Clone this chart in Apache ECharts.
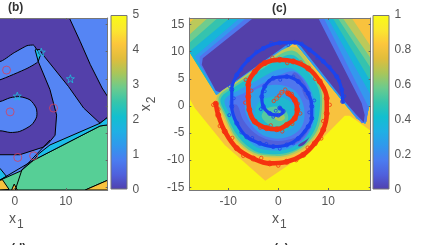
<!DOCTYPE html>
<html><head><meta charset="utf-8">
<style>html,body{margin:0;padding:0;background:#fff;overflow:hidden}#c{width:423px;height:245px}</style>
<script src="https://cdn.jsdelivr.net/npm/echarts@6/dist/echarts.min.js"></script>
</head><body><div id="c"></div>
<script>
// ---------- data (x1, x2 units) ----------
const xTicksB = [0, 10];
const xTicksC = [-10, 0, 10];
const yTicks = [-15, -10, -5, 0, 5, 10, 15];
const barTicksB = [0, 1, 2, 3, 4, 5];
const barTicksC = [0, 0.2, 0.4, 0.6, 0.8, 1];

// panel (b) regions
const bDark = [[-18,16.2],[10.7,16.2],[12.8,11.9],[14.8,7.6],[17.1,3.3],[18.2,1.7],[18.2,-2.1],[16.7,-3.2],[13.5,-0.4],[10.5,3.6],[5.3,9.7],[4.9,10.4],[4,10.3],[4.6,8.2],[6.9,3],[8.2,-1.7],[7.9,-5.4],[6.6,-6.9],[5.6,-7.6],[1,-9],[-18,-9]];
const bFinger = [[-18,13],[-2.9,8.2],[-0.3,9.7],[2.4,11.1],[3.7,11.2],[4.2,10.5],[4.6,8.2],[2.4,6.9],[-2.9,4.8],[-18,1]];
const bBlob = [[-18,-1],[-2.9,0.8],[-0.9,1.5],[1,1.7],[3,1.1],[4.2,-0.4],[4.3,-2],[3.3,-3.5],[1,-4.7],[-0.9,-4.9],[-2.9,-4.6],[-18,-7]];
const bGreen = [[18.2,-3.5],[16.7,-3.7],[3.7,-10],[1.2,-12],[-2.9,-13.7],[-3.5,-14.2],[-3.5,-15.5],[13.8,-15.5],[18.2,-13.7]];
const bCyanRight = [[16.7,-3.2],[18.2,-2.1],[18.2,-3.5],[16.7,-3.7],[3.7,-10],[4.6,-8.9],[6.9,-7.2]];
const bCyanLeft = [[-3.5,-11],[-2.9,-11.5],[-1.6,-13],[-2.9,-13.7],[-3.5,-14]];
const bCyanTip = [[4,10.3],[4.3,10.5],[5,9.3],[4.6,8.2]];
const bOrangeRight = [[13.8,-15.5],[18.2,-13.7],[18.2,-15.5]];
const bOrangeA = [[-3.5,-13.8],[-2.9,-13.7],[-2.4,-13.6],[-1.1,-15.4],[-3.5,-15.5]];
const bOrangeB = [[-0.6,-15.5],[-0.1,-14.4],[0.5,-15.5]];
const bLineA = [[-3.5,-14],[3.7,-10]];
const bLineB = [[6.9,-6.3],[1.4,-11.8],[0.1,-15.5]];
const bCircles = [[-1.6,6.6],[-0.9,-1.1],[7.6,-0.4],[0.6,-9.5],[3.7,-9.2]];
const bStars = [[5.2,9.9],[10.9,5],[0.5,1.8]];

// panel (c) filled contours, outermost first
const cOrange = [[-17.8,16.2],[18.5,16.2],[18.5,-4.6],[14.3,-1.8],[13.3,-1.8],[6.6,-8.1],[-2.6,-13.8],[-10.7,-7.2],[-16.7,-0.4],[-17.8,1.4]];
const cBand1 = [[-16.7,16.2],[14.7,16.2],[18.5,11],[18.5,1.1],[17.4,-3.3],[15.7,-2.3],[3.3,11.7],[-12.4,2],[-17.8,10],[-17.8,15.3]];
const cBand2 = [[-14.1,16.2],[12.9,16.2],[18.5,8.8],[18.5,1.1],[17.4,-3.3],[15.7,-2.3],[3.3,11.7],[-12.4,2],[-17.8,10],[-17.8,13.1]];
const cBand3 = [[-12.1,16.2],[11.9,16.2],[18.5,7],[18.5,1.1],[17.4,-3.3],[15.7,-2.3],[3.3,11.7],[-12.4,2],[-17.8,10],[-17.8,11.6]];
const cBand4 = [[-9.7,16.2],[10.9,16.2],[18.5,4.5],[18.5,1.1],[17.4,-3.3],[15.7,-2.3],[3.3,11.7],[-12.4,2],[-17.3,9.2],[-17.8,10]];
const cBand5 = [[-7.7,16.2],[9.9,16.2],[18.5,2],[18.5,1.1],[17.4,-3.3],[15.7,-2.3],[3.3,11.7],[-12.4,2],[-16.7,9.1]];
const cBand6 = [[-6.4,16.2],[9.1,16.2],[18,-0.1],[17.7,-2.9],[16.7,-3.2],[3.8,12.1],[3,12.1],[-12.1,2.5],[-15.7,7.6],[-15.7,9.1]];
const cDark = [[-5,16.2],[8,16.2],[16.7,0.5],[17.3,-1.7],[17.1,-3],[15.7,-1.7],[13.3,0.8],[3.7,11.9],[2.7,11.9],[-11.7,2.5],[-12.5,2.8],[-15.3,7.6],[-15.1,8.8]];
const cL1 = [[3,10.9],[6.7,7.3],[9,3.3],[9.2,-0.7],[8.2,-4.6],[5.7,-7.5],[2.3,-9.2],[-1,-9.5],[-5,-8.9],[-8.5,-6.3],[-11.1,-1.7],[-12.3,1.7],[-8.3,4.5],[-3,7.9]];
const cL2 = [[2.8,10.2],[6.3,6.8],[8.5,3.1],[8.7,-0.7],[7.8,-4.5],[5.3,-7.3],[2.1,-8.9],[-1,-9.2],[-4.9,-8.6],[-8.3,-6],[-10.8,-1.5],[-11.9,1.6],[-8.2,4.2],[-3,7.4]];
const cL3 = [[2.7,9.4],[6,6.3],[8.1,3],[8.3,-0.7],[7.3,-4.4],[5,-7.2],[2,-8.6],[-1,-8.9],[-4.7,-8.3],[-8,-5.7],[-10.5,-1.4],[-11.5,1.4],[-8,3.9],[-3,6.9]];
const cL4 = [[2.7,6.9],[5.3,4.8],[7,1.7],[7.3,-1.4],[6.7,-4.1],[4.7,-6.6],[1.7,-8],[-1,-8.2],[-4.3,-7.6],[-7.3,-5],[-9.7,-1.4],[-10.7,1.1],[-7.7,3],[-4,4.8],[-0.3,6.6]];
const cL5 = [[3.3,6.3],[5.7,4.2],[6.7,1.1],[6.9,-2],[6,-5],[4,-6.9],[1,-7.5],[-1.7,-7.6],[-4.7,-6.6],[-7.7,-3.8],[-9.7,-0.1],[-9.7,1.1],[-7,2.3],[-3.7,3.9],[0.3,5.7]];
const cLow1 = [[-9.7,-0.1],[-7.7,-3.8],[-4.7,-6.6],[-1.7,-7.4],[1,-7.2],[4,-6.6],[6.3,-4.1],[6.5,-2.6],[5,-5],[1.7,-6.3],[-1.7,-6.3],[-4.7,-5],[-7,-2.6],[-8.3,0.2]];
const cLow2 = [[3.3,6.2],[5.3,4.2],[6.5,1.1],[5.5,1.4],[4.3,3.9],[2.7,5.4]];
const cLow3 = [[4,-7.2],[5.7,-6.2],[6.2,-5.8],[5.3,-7],[4.2,-7.5]];
const cR1 = [[-0.7,3.9],[3,3],[5.1,-0.1],[4.7,-3.8],[1.7,-5.8],[-2.3,-5.7],[-5.3,-3.5],[-6.7,-0.1],[-5.3,2.6]];
const cR2 = [[-1,1.7],[2,1.1],[3.7,-1.4],[2.7,-4.1],[-0.3,-4.7],[-3.3,-3.8],[-4.7,-1.7],[-3.7,0.8]];
const cR3 = [[-0.7,-0.1],[1.3,-0.7],[2,-2.3],[0.7,-3.7],[-1.7,-3.5],[-3.3,-2],[-2.5,-0.6]];
const cR4 = [[0,-1.2],[1.1,-1.7],[1.3,-2.3],[0.3,-2.8],[-0.9,-2.1]];

// spiral classes
const redCore = [[-0.3,1.4],[0.7,2.5],[2,2.3]];
const redArm = [[2,2.3],[3.3,1.1],[3.8,-0.7],[3.3,-2.3],[1.7,-3.5],[-0.3,-4.3],[-2.3,-4.1],[-4.7,-2.9],[-5.8,-0.7],[-6,1.7],[-6,3.9],[-4.7,6.3],[-2.7,7.9],[0.3,8.5],[3,8.2],[6,6.9],[8.3,4.5],[9.7,1.4],[9.7,-1.4],[9,-4.4],[7.3,-6.9],[5,-9],[1.7,-10.3],[-1.7,-10.6],[-5,-9.7],[-8.3,-7.8],[-10.7,-4.7],[-12,-1.7],[-12.5,0.4]];
const blueArm = [[0.3,-0.4],[1,-1],[0,-1.7],[-1.7,-1.4],[-3,-0.1],[-3.3,1.7],[-2.7,3.6],[-1,5.1],[1.7,5.4],[4,4.5],[6,2.3],[6.7,-0.1],[6.7,-2.3],[6,-3.8],[4,-6],[1.7,-7.2],[-1,-7.5],[-3.7,-6.9],[-6.3,-5.7],[-8.3,-3.2],[-9.3,-0.1],[-9.3,3],[-8.3,5.7],[-6,8.5],[-3,10.6],[0.3,11.6],[3.3,11.7],[6.3,10.3],[9,8.2],[11.7,5.4],[12.7,3],[12.9,0.8]];
const redSpray = [[-0.9,0.9],[0.2,1.9],[1.4,3],[2.7,2.2],[3.9,0.4],[4.4,-1.4],[2.8,-3.3],[0.8,-4.7],[-1.5,-3.6],[-3.6,-4],[-5.4,-1.8],[-6.6,0.6],[-5.4,2.8],[-6.5,4.8],[-3.5,7.5],[-1.2,8.9],[1.8,7.9],[4.5,8],[7.4,5],[9,3.4],[10.3,0.2],[9,-2.8],[8.6,-6],[5.9,-7.7],[3.6,-10],[0,-11],[-3.4,-9.6],[-7,-9.2],[-9.2,-5.9],[-11.7,-3.7],[-12,-0.6],[-13,0.2]];
const blueSpray = [[-0.5,-0.9],[-1,-2],[-3.5,-0.6],[-2.7,2.7],[-1.8,4.6],[0.4,4.8],[3,5.4],[5.4,2.9],[7.2,1],[6.2,-1.2],[5.3,-4.7],[3,-6.9],[0.3,-7.9],[-2.4,-7],[-5.2,-5.9],[-7.4,-4.9],[-9.8,-1.7],[-8.9,1.4],[-9.7,3.6],[-7.4,6.7],[-4.4,10],[-1.4,11.6],[2,11.2],[4.7,11.5],[7.8,8.8],[10.3,7.2],[12.2,4.6],[13.2,1.8]];

// ---------- styling ----------
const INK = '#555555', FONT = '"Liberation Sans", Arial, sans-serif';
const DARK='#5340aa', BLUE='#5585f4', GREEN='#56cf96', CYAN='#1cbde8', ORANGE='#f8c23e', YELLOW='#f9f615';
const barStops = ['#f9fb15','#fbe82f','#fcc63c','#e0bd3c','#a9c65a','#6ccb8d','#35c5ac','#12bfcf','#1fb0e4','#3098ec','#4a7cf0','#4f60dc','#5040ad'];

const box = {
  b: {left:0, top:18, width:107.7, height:172, xMin:-2.88, xMax:18.2, ticks:xTicksB},
  c: {left:189.3, top:18, width:181.4, height:172, xMin:-17.8, xMax:18.5, ticks:xTicksC}
};
const yMin=-15.5, yMax=16.2;
const sub = (t,n)=>`{a|${t}}{b|${n}}`;
const richName = {rich:{a:{fontSize:14,color:INK,fontFamily:FONT},b:{fontSize:12,color:INK,fontFamily:FONT,padding:[11,0,0,1]}}};

function xAxes(p, gridIndex){
  const common={type:'value',gridIndex,min:p.xMin,max:p.xMax,z:20,splitLine:{show:false},
    axisLine:{onZero:false,lineStyle:{color:'#777',width:1}},
    axisTick:{inside:true,length:2,lineStyle:{color:'#666'},customValues:p.ticks}};
  return [
    {...common,position:'bottom',axisLabel:{color:INK,fontSize:12,fontFamily:FONT,margin:6,customValues:p.ticks,hideOverlap:false}},
    {...common,position:'top',axisLabel:{show:false}}
  ];
}
function yAxes(gridIndex, withLabels){
  const common={type:'value',gridIndex,min:yMin,max:yMax,z:20,splitLine:{show:false},
    axisLine:{onZero:false,lineStyle:{color:'#777',width:1}},
    axisTick:{inside:true,length:2,lineStyle:{color:'#666'},customValues:yTicks}};
  return [
    {...common,position:'left',axisLine:{show:withLabels,onZero:false,lineStyle:{color:'#777',width:1}},
      axisTick:{...common.axisTick,show:withLabels},
      axisLabel:{show:withLabels,color:INK,fontSize:12,fontFamily:FONT,margin:5,customValues:yTicks},
      ...(withLabels?{name:sub('x','2'),nameLocation:'middle',nameGap:32,nameRotate:90,nameTextStyle:richName}:{})},
    {...common,position:'right',axisLabel:{show:false}}
  ];
}
function barAxis(gridIndex,max,ticks){
  return {type:'value',gridIndex,min:0,max,position:'right',z:20,splitLine:{show:false},
    axisLine:{show:false},axisTick:{inside:true,length:2,lineStyle:{color:'#777'},customValues:ticks},
    axisLabel:{color:INK,fontSize:12,fontFamily:FONT,margin:5,customValues:ticks}};
}
function region(pts,fill,axisX,axisY,opt){
  opt=opt||{};
  return {type:'custom',xAxisIndex:axisX,yAxisIndex:axisY,clip:true,silent:true,z:opt.z||2,data:[0],
    animation:false,renderItem:(params,api)=>({
      type:opt.open?'polyline':'polygon',
      shape:{points:pts.map(p=>api.coord(p)),smooth:opt.smooth||0},
      style:{fill:opt.open?null:fill,stroke:opt.stroke||null,lineWidth:opt.lw||0}
    })};
}
const bx=0,by=0,cx=2,cy=2;
const inkLine={stroke:'#000',lw:1};
const bRegions=[
  region(bDark,DARK,bx,by,inkLine),
  region(bFinger,BLUE,bx,by,{...inkLine,smooth:0.15}),
  region(bBlob,BLUE,bx,by,{...inkLine,smooth:0.25}),
  region(bGreen,GREEN,bx,by,inkLine),
  region(bCyanRight,CYAN,bx,by,inkLine),
  region(bCyanLeft,CYAN,bx,by,inkLine),
  region(bCyanTip,CYAN,bx,by,inkLine),
  region(bOrangeRight,ORANGE,bx,by,inkLine),
  region(bOrangeA,ORANGE,bx,by,inkLine),
  region(bOrangeB,ORANGE,bx,by,inkLine),
  region(bLineA,null,bx,by,{...inkLine,open:true}),
  region(bLineB,null,bx,by,{...inkLine,open:true})
];
const s=0.35;
const cRegions=[
  region(cOrange,ORANGE,cx,cy),
  region(cBand1,'#bcc95a',cx,cy),
  region(cBand2,'#6fcc8e',cx,cy),
  region(cBand3,'#35c3ae',cx,cy),
  region(cBand4,'#17b5d8',cx,cy),
  region(cBand5,'#3498ee',cx,cy),
  region(cBand6,'#4f76ee',cx,cy),
  region(cDark,DARK,cx,cy),
  region(cL1,'#bcc95a',cx,cy,{smooth:s}),
  region(cL2,'#5ccb98',cx,cy,{smooth:s}),
  region(cL3,'#1fbccc',cx,cy,{smooth:s}),
  region(cL4,'#3498ee',cx,cy,{smooth:s}),
  region(cL5,'#4f76ee',cx,cy,{smooth:s}),
  region(cLow1,'#5060da',cx,cy,{smooth:s}),
  region(cLow2,'#5060da',cx,cy,{smooth:s}),
  region(cLow3,DARK,cx,cy,{smooth:s}),
  region(cR1,'#2f9fe8',cx,cy,{smooth:s}),
  region(cR2,'#1fb8cf',cx,cy,{smooth:s}),
  region(cR3,'#55c9a0',cx,cy,{smooth:s}),
  region(cR4,'#a5c860',cx,cy,{smooth:s})
];
const STAR='path://M50 2 L62 36 L98 37 L69 58 L79 94 L50 73 L21 94 L31 58 L2 37 L38 36 Z';
function arm(data,color,width,size){
  return {type:'line',xAxisIndex:cx,yAxisIndex:cy,data,smooth:0.4,z:5,animation:false,silent:true,
    symbol:'circle',symbolSize:size,showAllSymbol:true,
    lineStyle:{color,width,cap:'round',join:'round'},
    itemStyle:{color:'rgba(0,0,0,0)',borderColor:color,borderWidth:1}};
}
function spray(data,color,size){
  return {type:'scatter',xAxisIndex:cx,yAxisIndex:cy,data,symbol:'circle',symbolSize:size,z:5,silent:true,animation:false,
    itemStyle:{color:'rgba(0,0,0,0)',borderColor:color,borderWidth:1}};
}
function colorBar(xi,yi,value){
  return {type:'bar',xAxisIndex:xi,yAxisIndex:yi,data:[value],barWidth:'100%',z:3,silent:true,animation:false,
    itemStyle:{borderColor:'#777',borderWidth:1,
      color:new echarts.graphic.LinearGradient(0,0,0,1,barStops.map((c,i)=>({offset:i/(barStops.length-1),color:c})))}};
}
const xName=(left)=>({type:'text',left,top:212,silent:true,
  style:{text:sub('x','1'),fill:INK,font:'14px '+FONT,rich:richName.rich}});
const OB='none';
const chart=echarts.init(document.getElementById('c'),null,{renderer:'canvas'});
chart.setOption({
  animation:false,backgroundColor:'#fff',
  grid:[
    {outerBoundsMode:OB,left:box.b.left,top:box.b.top,width:box.b.width,height:box.b.height,show:true,backgroundColor:BLUE,borderWidth:0},
    {outerBoundsMode:OB,left:box.c.left,top:box.c.top,width:box.c.width,height:box.c.height,show:true,backgroundColor:YELLOW,borderWidth:0},
    {outerBoundsMode:OB,left:110.5,top:15,width:17,height:174.5},
    {outerBoundsMode:OB,left:372.5,top:15,width:17,height:174.5}
  ],
  xAxis:[...xAxes(box.b,0),...xAxes(box.c,1),
    {type:'category',gridIndex:2,data:[''],show:false},
    {type:'category',gridIndex:3,data:[''],show:false}],
  yAxis:[...yAxes(0,false),...yAxes(1,true),barAxis(2,5,barTicksB),barAxis(3,1,barTicksC)],
  graphic:[
    {type:'text',left:8,top:2,style:{text:'(b)',font:'bold 12px '+FONT,fill:'#333'}},
    {type:'text',left:272,top:3,style:{text:'(c)',font:'bold 12px '+FONT,fill:'#333'}},
    {type:'text',left:11,top:243,style:{text:'(d)',font:'bold 12px '+FONT,fill:'#333'}},
    {type:'text',left:274,top:243,style:{text:'(e)',font:'bold 12px '+FONT,fill:'#333'}},
    xName(9),xName(272)
  ],
  series:[
    ...bRegions,
    {type:'scatter',xAxisIndex:bx,yAxisIndex:by,data:bCircles,symbol:'circle',symbolSize:8,z:6,silent:true,
      itemStyle:{color:'rgba(0,0,0,0)',borderColor:'#d8405a',borderWidth:1}},
    {type:'scatter',xAxisIndex:bx,yAxisIndex:by,data:bStars,symbol:STAR,symbolSize:8,z:6,silent:true,
      itemStyle:{color:'rgba(0,0,0,0)',borderColor:'#1cc0dc',borderWidth:1}},
    ...cRegions,
    arm(blueArm,'#1a44ee',3.2,4),
    spray(blueSpray,'#1a44ee',3),
    arm(redCore,'#e8502a',0.8,4),
    arm(redArm,'#f5320f',4.6,5),
    spray(redSpray,'#f53a12',3.5),
    colorBar(4,4,5),
    colorBar(5,5,1)
  ]
});
</script></body></html>
